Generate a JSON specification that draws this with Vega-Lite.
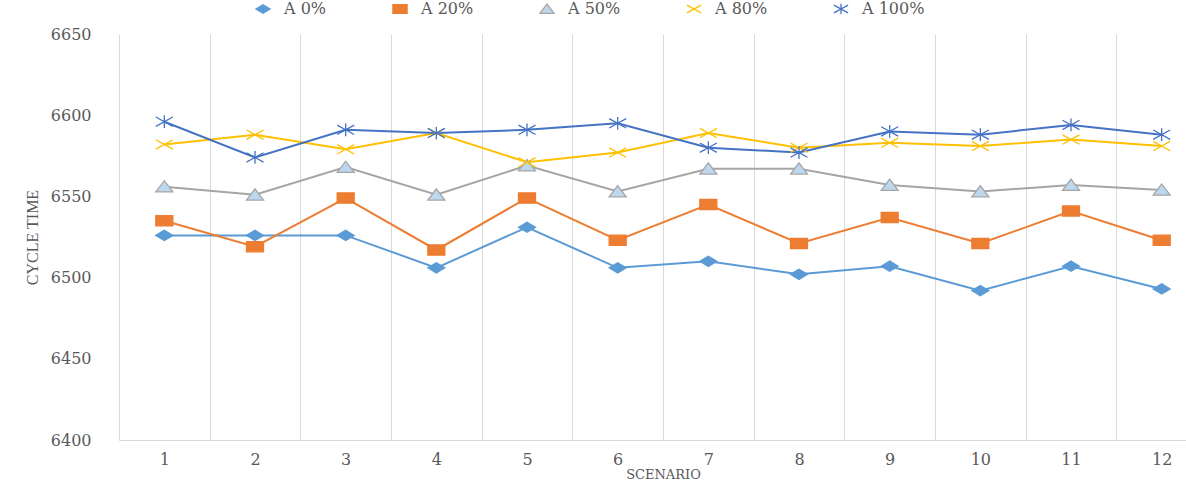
{
  "$schema": "https://vega.github.io/schema/vega-lite/v6.json",
  "width": 1067,
  "height": 406,
  "autosize": "none",
  "padding": {"left": 119, "top": 34, "right": 0, "bottom": 43},
  "background": "white",
  "config": {
    "view": {"stroke": null},
    "font": "DejaVu Serif",
    "legend": {
      "orient": "none",
      "direction": "horizontal",
      "legendX": 136,
      "legendY": -33,
      "padding": 0,
      "symbolSize": 200,
      "symbolStrokeWidth": 1.3,
      "labelFont": "DejaVu Serif",
      "labelFontSize": 16,
      "labelColor": "#595959",
      "labelOffset": 13,
      "columnPadding": 63
    }
  },
  "data": {
    "values": [
      {"scenario": 1, "series": "A 0%", "value": 6526},
      {"scenario": 2, "series": "A 0%", "value": 6526},
      {"scenario": 3, "series": "A 0%", "value": 6526},
      {"scenario": 4, "series": "A 0%", "value": 6506},
      {"scenario": 5, "series": "A 0%", "value": 6531},
      {"scenario": 6, "series": "A 0%", "value": 6506},
      {"scenario": 7, "series": "A 0%", "value": 6510},
      {"scenario": 8, "series": "A 0%", "value": 6502},
      {"scenario": 9, "series": "A 0%", "value": 6507},
      {"scenario": 10, "series": "A 0%", "value": 6492},
      {"scenario": 11, "series": "A 0%", "value": 6507},
      {"scenario": 12, "series": "A 0%", "value": 6493},
      {"scenario": 1, "series": "A 20%", "value": 6535},
      {"scenario": 2, "series": "A 20%", "value": 6519},
      {"scenario": 3, "series": "A 20%", "value": 6549},
      {"scenario": 4, "series": "A 20%", "value": 6517},
      {"scenario": 5, "series": "A 20%", "value": 6549},
      {"scenario": 6, "series": "A 20%", "value": 6523},
      {"scenario": 7, "series": "A 20%", "value": 6545},
      {"scenario": 8, "series": "A 20%", "value": 6521},
      {"scenario": 9, "series": "A 20%", "value": 6537},
      {"scenario": 10, "series": "A 20%", "value": 6521},
      {"scenario": 11, "series": "A 20%", "value": 6541},
      {"scenario": 12, "series": "A 20%", "value": 6523},
      {"scenario": 1, "series": "A 50%", "value": 6556},
      {"scenario": 2, "series": "A 50%", "value": 6551},
      {"scenario": 3, "series": "A 50%", "value": 6568},
      {"scenario": 4, "series": "A 50%", "value": 6551},
      {"scenario": 5, "series": "A 50%", "value": 6569},
      {"scenario": 6, "series": "A 50%", "value": 6553},
      {"scenario": 7, "series": "A 50%", "value": 6567},
      {"scenario": 8, "series": "A 50%", "value": 6567},
      {"scenario": 9, "series": "A 50%", "value": 6557},
      {"scenario": 10, "series": "A 50%", "value": 6553},
      {"scenario": 11, "series": "A 50%", "value": 6557},
      {"scenario": 12, "series": "A 50%", "value": 6554},
      {"scenario": 1, "series": "A 80%", "value": 6582},
      {"scenario": 2, "series": "A 80%", "value": 6588},
      {"scenario": 3, "series": "A 80%", "value": 6579},
      {"scenario": 4, "series": "A 80%", "value": 6589},
      {"scenario": 5, "series": "A 80%", "value": 6571},
      {"scenario": 6, "series": "A 80%", "value": 6577},
      {"scenario": 7, "series": "A 80%", "value": 6589},
      {"scenario": 8, "series": "A 80%", "value": 6580},
      {"scenario": 9, "series": "A 80%", "value": 6583},
      {"scenario": 10, "series": "A 80%", "value": 6581},
      {"scenario": 11, "series": "A 80%", "value": 6585},
      {"scenario": 12, "series": "A 80%", "value": 6581},
      {"scenario": 1, "series": "A 100%", "value": 6596},
      {"scenario": 2, "series": "A 100%", "value": 6574},
      {"scenario": 3, "series": "A 100%", "value": 6591},
      {"scenario": 4, "series": "A 100%", "value": 6589},
      {"scenario": 5, "series": "A 100%", "value": 6591},
      {"scenario": 6, "series": "A 100%", "value": 6595},
      {"scenario": 7, "series": "A 100%", "value": 6580},
      {"scenario": 8, "series": "A 100%", "value": 6577},
      {"scenario": 9, "series": "A 100%", "value": 6590},
      {"scenario": 10, "series": "A 100%", "value": 6588},
      {"scenario": 11, "series": "A 100%", "value": 6594},
      {"scenario": 12, "series": "A 100%", "value": 6588}
    ]
  },
  "encoding": {
    "x": {
      "field": "scenario",
      "type": "ordinal",
      "bandPosition": 0.5,
      "scale": {"type": "band", "paddingInner": 0, "paddingOuter": 0, "range": [0, 1088]},
      "axis": {
        "title": "SCENARIO",
        "titleFont": "DejaVu Serif",
        "titleFontSize": 13,
        "titleFontWeight": "normal",
        "titleColor": "#595959",
        "titlePadding": 1,
        "titleX": 544,
        "labelAngle": 0,
        "labelFont": "DejaVu Serif",
        "labelFontSize": 16,
        "labelColor": "#595959",
        "labelPadding": 11,
        "tickBand": "extent",
        "ticks": false,
        "grid": true,
        "gridColor": "#D9D9D9",
        "gridWidth": 1,
        "domainColor": "#D9D9D9",
        "domainWidth": 1
      }
    },
    "y": {
      "field": "value",
      "type": "quantitative",
      "scale": {"domain": [6400, 6650], "nice": false, "zero": false},
      "axis": {
        "values": [6400, 6450, 6500, 6550, 6600, 6650],
        "format": "d",
        "title": "CYCLE TIME",
        "titleFont": "Liberation Serif",
        "titleFontSize": 16,
        "titleFontWeight": "normal",
        "titleColor": "#595959",
        "titlePadding": 10,
        "labelFont": "DejaVu Serif",
        "labelFontSize": 16,
        "labelColor": "#595959",
        "labelPadding": 28,
        "ticks": false,
        "grid": false,
        "domain": false
      }
    }
  },
  "layer": [
    {
      "mark": {"type": "line", "strokeWidth": 2},
      "encoding": {
        "stroke": {
          "field": "series",
          "type": "nominal",
          "scale": {
            "domain": ["A 0%", "A 20%", "A 50%", "A 80%", "A 100%"],
            "range": ["#5B9BD5", "#ED7D31", "#A5A5A5", "#FFC000", "#4472C4"]
          },
          "legend": {"title": null}
        }
      }
    },
    {
      "mark": {"type": "point", "filled": true, "size": 289, "strokeWidth": 1.3, "opacity": 1},
      "encoding": {
        "fill": {
          "field": "series",
          "type": "nominal",
          "scale": {
            "domain": ["A 0%", "A 20%", "A 50%", "A 80%", "A 100%"],
            "range": ["#5B9BD5", "#ED7D31", "#BDD7EE", "#FFC000", "#4472C4"]
          },
          "legend": {"title": null}
        },
        "stroke": {
          "field": "series",
          "type": "nominal",
          "scale": {
            "domain": ["A 0%", "A 20%", "A 50%", "A 80%", "A 100%"],
            "range": ["#5B9BD5", "#ED7D31", "#A5A5A5", "#FFC000", "#4472C4"]
          },
          "legend": {"title": null}
        },
        "shape": {
          "field": "series",
          "type": "nominal",
          "scale": {
            "domain": ["A 0%", "A 20%", "A 50%", "A 80%", "A 100%"],
            "range": [
              "M-1,0L0,-0.6L1,0L0,0.6Z",
              "M-1,-0.6L1,-0.6L1,0.6L-1,0.6Z",
              "M-1,0.62L0,-0.7L1,0.62Z",
              "M-1,-0.55L1,0.55M1,-0.55L-1,0.55",
              "M-1,-0.55L1,0.55M1,-0.55L-1,0.55M0,-0.75L0,0.75"
            ]
          },
          "legend": {"title": null}
        }
      }
    }
  ]
}
